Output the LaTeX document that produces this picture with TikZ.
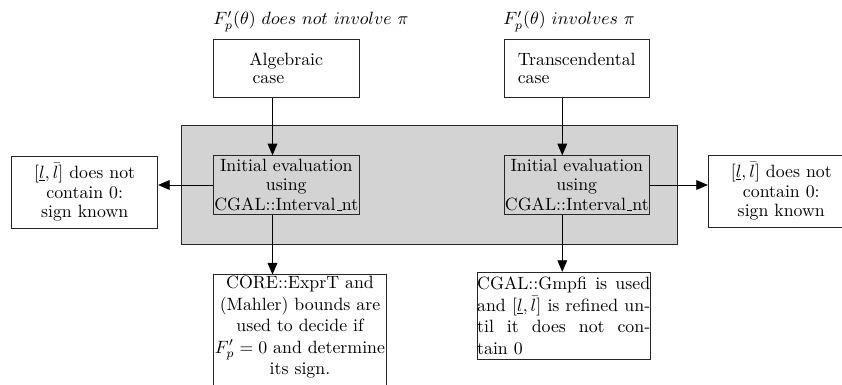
\documentclass[tikz,border=0pt]{standalone}
\usetikzlibrary{arrows.meta}
\definecolor{grayfill}{HTML}{D3D3D3}
\def\pxu{0.5618pt}
\newcommand\lowbar{\leavevmode\kern.06em\vbox{\hrule width .3em}}
\begin{document}
\begin{tikzpicture}[x=\pxu,y=-\pxu, line width=0.5pt,
  box/.style={draw=black!85, inner sep=0pt, align=center, font=\fontsize{10}{11.2}\selectfont},
  topbox/.style={box, align=left, font=\fontsize{10}{10.2}\selectfont},
  arr/.style={-{Triangle[length=6.5pt,width=5.5pt]}, draw=black}]
\useasboundingbox (0,0) rectangle (842,385);
% top labels
\node[anchor=base west, inner sep=0pt] (labL) at (213,25) {$F'_p(\theta)\ does\ not\ involve\ \pi$};
\node[anchor=base west, inner sep=0pt] (labR) at (503,25) {$F'_p(\theta)\ involves\ \pi$};
% top boxes
\node[topbox, minimum width={146*\pxu}, minimum height={58.4*\pxu}] (alg) at (286.2,68.5) {Algebraic\\\hspace*{1.8pt}case};
\node[topbox, minimum width={145*\pxu}, minimum height={58.4*\pxu}] (trans) at (576.7,68.5) {Transcendental\\case};
% grey container
\node[draw=black!85, fill=grayfill, inner sep=0pt, minimum width={495.6*\pxu}, minimum height={119*\pxu}] (grp) at (429.5,184.5) {};
% initial evaluation boxes
\node[box, minimum width={146*\pxu}, minimum height={58.6*\pxu}] (initL) at (286.3,185) {Initial evaluation\\using\\CGAL::Interval\lowbar nt};
\node[box, minimum width={145*\pxu}, minimum height={58.6*\pxu}] (initR) at (576.8,185) {Initial evaluation\\using\\CGAL::Interval\lowbar nt};
% sign boxes
\node[box, minimum width={146*\pxu}, minimum height={71.6*\pxu}] (signL) at (84.7,192.5) {$[\underline{l},\bar{l}]$ does not\\contain 0:\\sign known};
\node[box, minimum width={146*\pxu}, minimum height={71.6*\pxu}] (signR) at (781.3,191.5) {$[\underline{l},\bar{l}]$ does not\\contain 0:\\sign known};
% bottom boxes
\node[box, font=\normalsize, anchor=north, inner ysep={1.5*\pxu}, minimum width={173.4*\pxu}] (core) at (300,274.5)
  {\parbox[t][66pt][t]{97.2pt}{\centering CORE::ExprT and\\ (Mahler) bounds are\\ used to decide if\\ $F'_p=0$ and determine\\ its sign.}};
\node[box, font=\normalsize, minimum width={172.7*\pxu}, minimum height={87*\pxu}] (gmp) at (563.7,315.8)
  {\parbox{97.2pt}{\tolerance=10000 CGAL::Gmpfi is used\linebreak and $[\underline{l},\bar{l}]$ is refined un-\linebreak til it does not con-\linebreak tain 0}};
% connector guide coordinates
\coordinate (xl) at (272.5,0);
\coordinate (xr) at (562.3,0);
% connectors
\draw[arr] (alg.south -| xl) -- (initL.north -| xl);
\draw[arr] (trans.south -| xr) -- (initR.north -| xr);
\draw[arr] (initL.west) -- (initL.west -| signL.east);
\draw[arr] (initR.east) -- (initR.east -| signR.west);
\draw[arr] (initL.south -| xl) -- (core.north -| xl);
\draw[arr] (initR.south -| xr) -- (gmp.north -| xr);
\end{tikzpicture}
\end{document}
